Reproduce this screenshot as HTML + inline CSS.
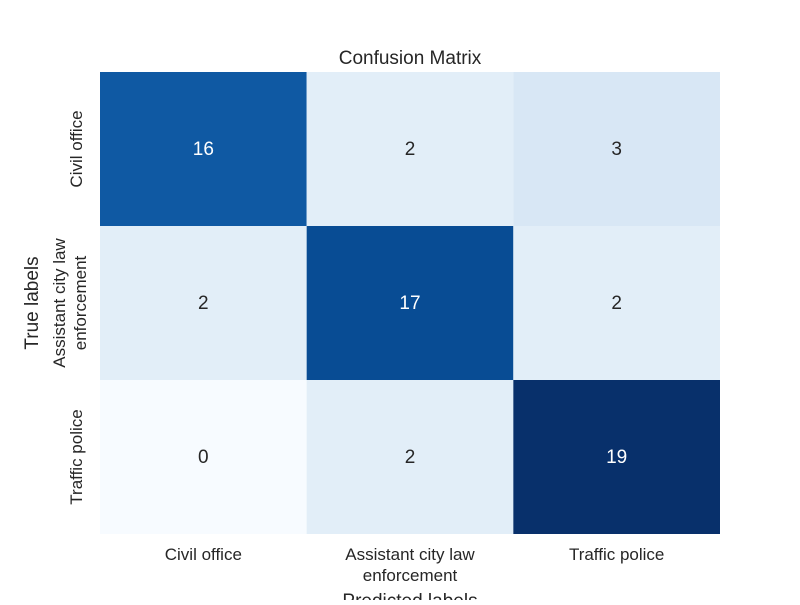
<!DOCTYPE html>
<html><head><meta charset="utf-8"><style>
body{margin:0;background:#fff}
svg text{font-family:"Liberation Sans","DejaVu Sans",sans-serif;fill:#262626}
</style></head><body>
<svg id="chart" width="800" height="600">
<text x="410" y="64" font-size="19" text-anchor="middle">Confusion Matrix</text>
<g id="cells"></g>
<g id="xt"></g><g id="yt"></g>
<text x="410" y="607" font-size="19" text-anchor="middle">Predicted labels</text>
<text transform="translate(38,303) rotate(-90)" font-size="19" text-anchor="middle">True labels</text>
</svg>
<script>
const categories=["Civil office","Assistant city law|enforcement","Traffic police"];
const values=[[16,2,3],[2,17,2],[0,2,19]];
const vmin=0, vmax=19;
const stops=["#f7fbff","#deebf7","#c6dbef","#9ecae1","#6baed6","#4292c6","#2171b5","#08519c","#08306b"];
const X0=100,X1=720,Y0=72,Y1=534;
const n=categories.length, cw=(X1-X0)/n, ch=(Y1-Y0)/n;
const xs=i=>X0+i*cw, ys=i=>Y0+i*ch;
function hex(h){return [1,3,5].map(k=>parseInt(h.substr(k,2),16));}
function color(v){let t=(v-vmin)/(vmax-vmin)*(stops.length-1);let i=Math.min(Math.floor(t),stops.length-2);let f=t-i;let a=hex(stops[i]),b=hex(stops[i+1]);return "rgb("+a.map((c,k)=>Math.round(c+(b[k]-c)*f)).join(",")+")";}
const NS="http://www.w3.org/2000/svg";
const cells=document.getElementById("cells");
values.forEach((row,r)=>row.forEach((v,c)=>{
 const rect=document.createElementNS(NS,"rect");
 rect.setAttribute("x",xs(c));rect.setAttribute("y",ys(r));rect.setAttribute("width",cw);rect.setAttribute("height",ch);rect.setAttribute("fill",color(v));
 
 
 cells.appendChild(rect);
 const t=document.createElementNS(NS,"text");
 t.setAttribute("x",xs(c)+cw/2);t.setAttribute("y",ys(r)+ch/2+6);t.setAttribute("text-anchor","middle");t.setAttribute("font-size","19");
 t.style.fill=(v-vmin)/(vmax-vmin)>0.5?"#fff":"#262626";t.textContent=v;
 
 
 cells.appendChild(t);
}));
const xt=document.getElementById("xt"),yt=document.getElementById("yt");
categories.forEach((lab,i)=>{
 const parts=lab.split("|");
 const t=document.createElementNS(NS,"text");
 t.setAttribute("text-anchor","middle");t.setAttribute("font-size","17");
 parts.forEach((p,k)=>{const s=document.createElementNS(NS,"tspan");s.setAttribute("x",xs(i)+cw/2);s.setAttribute("y",560+k*21);s.textContent=p;t.appendChild(s);});
 
 
 xt.appendChild(t);
 const u=document.createElementNS(NS,"text");
 const cy=ys(i)+ch/2;
 u.setAttribute("text-anchor","middle");u.setAttribute("font-size","17");
 const off=parts.length>1?-17:0;
 u.setAttribute("transform","translate("+(82+off)+","+cy+") rotate(-90)");
 parts.forEach((p,k)=>{const s=document.createElementNS(NS,"tspan");s.setAttribute("x",0);s.setAttribute("y",k*21);s.textContent=p;u.appendChild(s);});
 
 
 yt.appendChild(u);
});
</script>
</body></html>
